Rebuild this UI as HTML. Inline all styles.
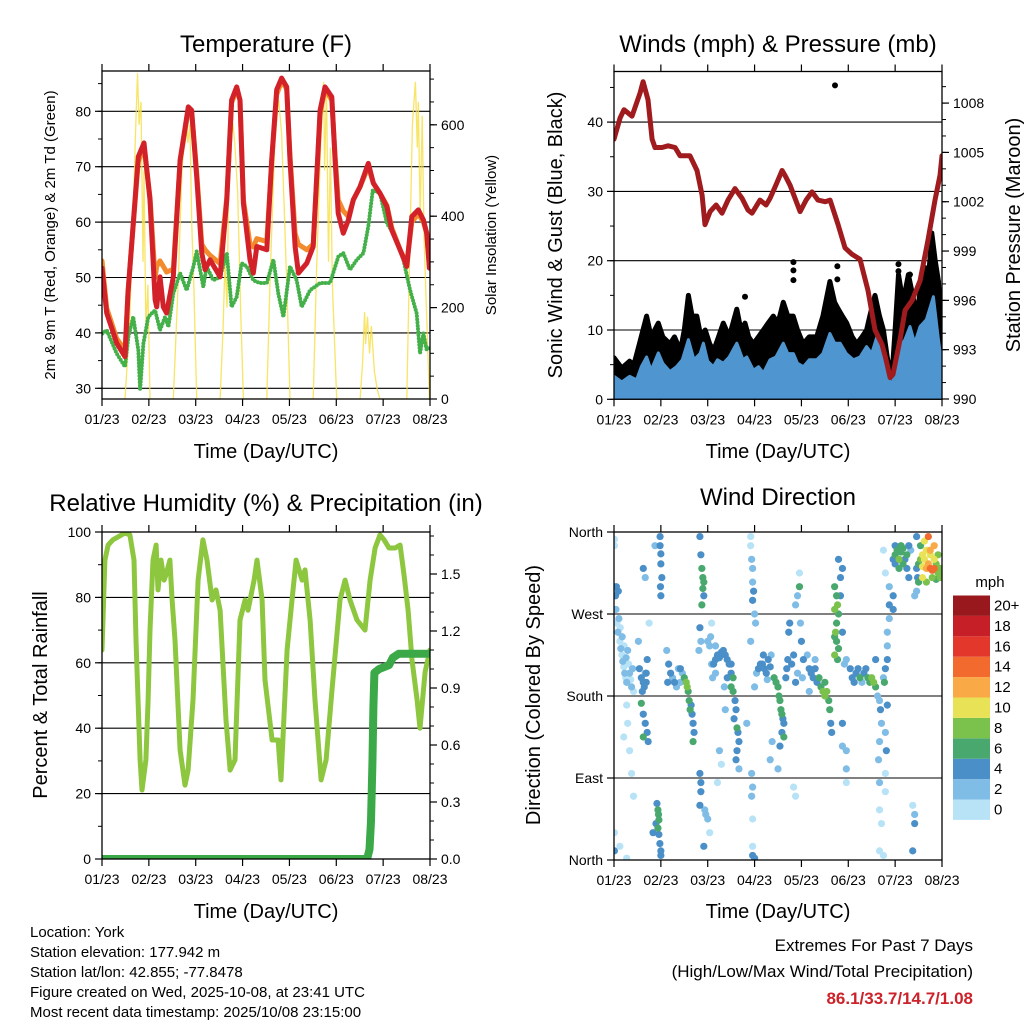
<!DOCTYPE html>
<html><head><meta charset="utf-8"><title>Station Meteogram</title>
<style>
html,body{margin:0;padding:0;background:#fff;}
svg{display:block;font-family:"Liberation Sans",Arial,sans-serif;}
</style></head>
<body>
<svg id="chart" width="1024" height="1024" viewBox="0 0 1024 1024" xmlns="http://www.w3.org/2000/svg">
<rect x="0" y="0" width="1024" height="1024" fill="#fff"/>
<text x="266" y="52" font-size="24" text-anchor="middle">Temperature (F)</text>
<text x="778" y="52" font-size="24" text-anchor="middle">Winds (mph) &amp; Pressure (mb)</text>
<text x="266" y="511" font-size="24" text-anchor="middle">Relative Humidity (%) &amp; Precipitation (in)</text>
<text x="778" y="505" font-size="24" text-anchor="middle">Wind Direction</text>
<text x="266" y="458" font-size="20" text-anchor="middle">Time (Day/UTC)</text>
<text x="778" y="458" font-size="20" text-anchor="middle">Time (Day/UTC)</text>
<text x="266" y="918" font-size="20" text-anchor="middle">Time (Day/UTC)</text>
<text x="778" y="918" font-size="20" text-anchor="middle">Time (Day/UTC)</text>
<text transform="translate(55,235) rotate(-90)" font-size="15" text-anchor="middle">2m &amp; 9m T (Red, Orange) &amp; 2m Td (Green)</text>
<text transform="translate(496,235) rotate(-90)" font-size="15" text-anchor="middle">Solar Insolation (Yellow)</text>
<text transform="translate(562,235) rotate(-90)" font-size="20" text-anchor="middle">Sonic Wind &amp; Gust (Blue, Black)</text>
<text transform="translate(1020,235) rotate(-90)" font-size="20" text-anchor="middle">Station Pressure (Maroon)</text>
<text transform="translate(47,695) rotate(-90)" font-size="20" text-anchor="middle">Percent &amp; Total Rainfall</text>
<text transform="translate(540,695) rotate(-90)" font-size="20" text-anchor="middle">Direction (Colored By Speed)</text>
<g font-size="15">
<text x="30" y="937">Location: York</text>
<text x="30" y="957">Station elevation: 177.942 m</text>
<text x="30" y="977">Station lat/lon: 42.855; -77.8478</text>
<text x="30" y="997">Figure created on Wed, 2025-10-08, at 23:41 UTC</text>
<text x="30" y="1017">Most recent data timestamp: 2025/10/08 23:15:00</text>
</g>
<g font-size="17" text-anchor="end">
<text x="973" y="951">Extremes For Past 7 Days</text>
<text x="973" y="977">(High/Low/Max Wind/Total Precipitation)</text>
<text x="973" y="1004" fill="#cc2229" font-weight="bold">86.1/33.7/14.7/1.08</text>
</g>
<text x="990" y="587" font-size="15" text-anchor="middle">mph</text>
</svg>
<script>
// ---------- data ----------
const timeTicks = ["01/23","02/23","03/23","04/23","05/23","06/23","07/23","08/23"];
const tempT = [0,2.4,7.5,11.8,13.3,18.6,21.5,24.6,27.2,28,29.7,31.4,33.1,36.5,40,44.2,45.9,48.5,51.1,52.8,55.3,60.5,63.9,66.4,69,70.7,72.4,75.8,77.5,79.3,84.4,86.9,89.5,92,94.6,96.3,98.9,100.6,104.9,108.2,111.7,114.2,117.7,119.4,121,123.6,126.2,128.7,132.2,136.4,139,142.4,145.9,148.4,152.7,156.1,158.7,162,164.6,166.3,167.7];
const tempRed = [51.7,43.6,38.2,35.7,47.2,71.8,74.3,64,46,44.7,50.1,44.7,43.6,50.1,71.2,80.8,80.2,68.2,54.4,51.4,53.2,50.1,64,82,84.4,82,63.4,53.2,50.8,55.6,55,71.2,83.9,86,84.4,71.2,55.6,50.8,52.6,55.6,80.2,84.4,82.6,71.2,61.6,58,60.4,64,66.4,70.6,67,65.2,62.8,58.6,55,52,61,62.2,60.4,58,51.7];
const tempOrange = [53,44.5,39,36.8,47.5,71,73.5,64.5,50,52,53,52,51,51.5,71,80.2,80,69,56,55,54,52.5,64.5,81.5,84,82,64,56,55.5,57,56.5,71,83,85.5,84,72,58,56,55,56,79.5,84,82,72,64,62,61,64,66.4,70,67,65.2,63,59,55,52.5,60,61.5,60,58,52];
const dewT = [0.2,2.4,7.5,11.8,13.5,16,18.6,19.5,21.2,23.7,27.2,29.7,32.3,34,36.5,40,43.4,46.8,48.5,51.9,53.6,57,60.5,63.9,66.4,69,71.5,74.1,77.5,80.9,84.4,87.8,90.3,92.9,96.3,99.7,102.3,106.6,111.7,116.8,121.1,123.6,127,130.5,133.9,136.4,138.7,142.4,145.9,150.1,154.4,157.8,161.2,162.9,164.6,166.3,167.7];
const dewVals = [39.9,40.5,36.3,33.9,39.3,42.9,36.9,29.7,38.1,42.9,44.1,40.5,42.9,41.1,47.1,50.8,47.7,52,54.7,48.3,52,49.5,50.1,54.4,44.7,46.5,52.6,52,49.5,49,49,53.2,47.1,42.9,52,49.5,44.7,47.7,49,49,53.8,54.4,51.4,53.2,54.4,59.2,65.8,65.2,59.8,57.4,53.2,47.7,43.5,36.3,39.9,36.9,37.5];
const solarT = [11.8,14,16,17,18.2,19,20,21,21.5,22.5,23.5,24.6,36.5,39,41,43,44,45,46,47,48.5,60.5,62,63,64,65,67,68,69.5,71,72.4,84.4,86,88,89,90.5,92,93.5,95,96.3,108.2,110,112,113.5,114,115,116,117,118,120.2,132.2,133.5,134.5,135,136,137,138,139.5,141,142.4,156.1,157.5,159,160.5,161.5,162,163,164,165,166.5,167.7];
const solarVals = [0,150,400,560,713,600,650,300,500,150,250,0,0,250,500,618,560,600,380,250,0,0,150,300,200,500,604,560,450,200,0,0,250,500,620,654,580,400,200,0,0,300,560,694,500,680,300,550,250,0,0,80,190,120,180,100,160,60,20,0,0,300,600,694,550,650,400,620,350,150,0];
const presT = [0,3.1,5.1,9.2,13.3,14.9,17.4,19.5,21,24.6,27.7,31.3,33.8,38.9,42.5,45.1,46.6,49.2,52.3,55.3,58.4,62,65.6,68.6,70.7,74.8,77.9,79.9,82.5,86.1,87.6,90.2,95.3,98.4,101.4,104.5,108.1,110.7,114.8,118.3,121.9,126,130.1,133.7,137.3,139.3,141.4,142.9,146.5,149.1,152.7,156.8,160.9,164.4,167,168];
const presVals = [1005.8,1007.1,1007.6,1007.2,1008.6,1009.3,1008.2,1005.8,1005.3,1005.3,1005.4,1005.3,1004.8,1004.8,1003.9,1002.4,1000.6,1001.4,1001.8,1001.3,1002.1,1002.8,1002.2,1001.5,1001.3,1002.1,1001.8,1002.2,1002.9,1003.9,1003.6,1003,1001.4,1002.1,1002.6,1002.1,1002,1002.1,1000.6,999.2,998.8,998.5,996.6,994.2,993.3,992.4,991.3,991.5,993.6,995.4,996,997.2,999.7,1002.1,1003.6,1004.8];
const windT = [0,4,8,11.6,14,16.7,19,22.7,25,28.7,32,35,38.1,41,44.1,45.8,48,50.9,53,56,59,62.9,66,68,71.4,74,76.5,79.9,83,86.7,89,91.9,94,97,100,103.8,107,110.6,113,115.8,119,122.6,126,129.4,132,134.6,138,140,142.3,144,146.5,149,151.6,154,156.8,160,163.6,166,168];
const windVals = [3.3,2.5,3.3,2.8,4.7,6.1,4.2,6.7,5.2,4,4.7,5.7,8.6,5.7,6.6,8.1,5.5,4.7,5.7,5.2,6.1,8.1,5.7,6.1,4.2,4.7,3.8,5.7,6.1,8.1,6.6,6.6,5.2,4.7,5.7,5.7,6.6,9.5,8.1,8.1,6.6,5.7,6.1,7.6,6.6,9,6.1,4.2,1.3,5.7,7.6,8.6,10.5,8.1,10.5,11.5,14.8,9,4.7];
const gustT = [0,4,8,10.2,13,16.7,19,22.7,25,28.7,31,34,36,38.1,40,42.4,44.5,46.7,49,51,53.5,56,59,62.9,65,67.1,69,71.4,74,76.5,79,81.6,84,86.7,89,91.8,94,96.9,100,103.8,107,110.6,113,114.9,117,119.2,122,124.3,127,129.4,131,133.7,136,138,140,142.3,144,145.7,148,150.8,153,155.1,157,159.4,161,162.8,164.5,166.2,168];
const gustVals = [6,4.5,5.5,5,8,12,9,11,9,8,9,7,10,15,12,12,9,10,8,7,9,11,9,13,10,11,9,8,9,10,11,12,11,14,12,12,10,8,9,9,12,17,14,13,12,11,9,8,9,10,12,15,12,10,6,3,10,18,14,18,15,12,16,19,17,24,20,17,9];
const gustOutT = [113.2,91.9,91.9,91.9,114.4,114.4,67.1,145.7,145.7,151.6];
const gustOutV = [45.3,19.8,18.6,17.2,19.2,17.3,14.8,19.5,18.5,18];
const rhT = [0,1.5,3.1,5.6,8.2,11.8,14.3,16.4,17.4,19.5,20.5,22.5,23.6,24.6,26.1,27.7,28.7,30.2,31.8,32.8,34.8,35.9,37.4,40,42.5,44.1,46.6,49.2,51.7,53.8,56.4,58.4,60.5,63.5,65.6,68.1,70.7,73.3,74.8,77.9,79.4,82,83.5,87.1,90.2,91.7,94.8,97.3,99.4,102.5,104,106.6,109.1,112.2,114.8,117.8,121.9,124.5,127,130.6,134.7,137.3,139.9,142.4,144.5,147,150.1,152.7,154.7,156.8,158.8,161.4,162.9,165.5,168];
const rhVals = [63.9,91.4,96,97.6,98.5,99.7,99.1,91.4,67,30.3,21.1,30.3,48.6,70,91.4,96,82.3,91.4,85.3,86.9,91.4,79.2,67,33.3,22.6,27.2,48.6,85.3,97.6,91.4,79.2,82.3,76.1,42.5,27.2,30.3,73.1,79.2,76.1,85.3,91.4,79.2,54.7,36.4,36.4,24.2,63.9,79.2,91.4,85.3,88.4,73.1,48.6,24.2,30.3,51.7,79.2,85.3,79.2,73.1,70,85.3,95.1,99.1,97.6,95.1,95.1,96,86.9,76.1,60.9,48.6,40,57.2,63.9];
const precipT = [0,135.8,137,137.8,138.5,139,139.5,142,147,149,152,168];
const precipVals = [0,0,0.05,0.2,0.5,0.8,0.98,1.0,1.02,1.06,1.08,1.08];
const dirT = [0.2,0.2,0.5,0.8,1,1.5,2,3,3.5,4,4.5,5,5.5,6,6.5,7,7.5,8,8.5,9,9.5,10,2.5,3.2,4.2,5.2,6.2,1.2,2.2,6.5,7,8,9,10,5,3,0.2,0.2,6.5,
13,14,15,15.5,14.5,16,16.5,14,15,16,17,17.5,15,16.5,17,15,16,18,12.5,
23.6,23.6,24,24,23.8,24,21,24.5,22,22.5,22.8,23,22.5,23,23.5,24,24,21.5,20,27,28,29,30,31,32,33,34,27.5,
36,37,37.5,38,38.5,39,40,40.5,41,40.5,39.5,35,34,
44,44.5,45,45.5,46,45.5,46,45,44,44.5,43.5,44,44.5,44.5,44,46.5,47,48,46,49,48,49,
50,51,52,53,54,55,56,57,52,50.5,49.5,50,52,58,59,60,61,60,61,62,62.5,61.5,63,63.5,64,63,62.5,64,60,58,56.5,57,54,55,53,
70,70,70.5,71,71,71.5,71,72,72.5,70,70.5,71,70.5,71,71,71,72,74,75,73,72,68,
76,77,78,79,80,76.5,78.5,80.5,82,83,84,84.5,85,85.5,86,86.5,87,86,87,85,88,88.5,89,89.5,90,81,84,80,
91,92,93,94,93,94,95,95.5,96,97,96.5,95,92,93,
100,101,102,103,104,105,106,107,108,109,108,110,110.5,111,111.5,103,100,99,
113,114,114.5,113,115,114,113.5,114,115,113,114.5,116,117,115,116,117,113,119,118,119,119,119,117,117,
121,122,123,124,125,126,127,128,129,130,131,132,133,134,134,135,136,136.5,137,136,135.5,136,136,137,136,138,138,139,140,140,140,141,141,141,138,139,138.5,140,139,139.5,139,139,
143,144,145,146,147,148,149,150,151,146,148,144,147,150,152,143,143,144,151,154,154,154,153,153,155,155.5,
155,156,157,158,159,160,161,162,163,164,165,166,167,158,160,162,164,166,157,159,163,165,161,155,167,162,158,160,156,164];
const dirDeg = [352,345,300,290,275,260,250,240,232,225,218,212,205,200,195,230,215,205,198,190,210,185,265,255,245,235,222,300,295,170,150,120,95,70,135,15,30,10,2,
210,200,195,190,185,205,195,172,160,150,140,130,135,205,220,320,310,260,240,
355,345,336,325,300,290,345,310,62,55,50,44,35,28,18,10,5,40,30,230,215,205,200,195,190,210,195,195,
200,195,190,185,175,165,160,150,140,130,170,205,210,
355,335,320,310,305,298,290,280,255,240,230,95,85,75,60,55,50,45,15,235,240,30,
215,215,220,225,222,228,230,225,205,200,245,260,235,220,215,205,200,190,185,175,165,155,145,140,130,120,110,100,215,200,190,165,120,105,85,
355,345,330,320,305,295,285,270,260,240,95,80,70,45,15,5,2,210,215,205,190,150,
215,210,205,220,212,225,198,225,200,195,190,180,175,165,160,155,150,140,135,125,200,210,220,250,260,130,100,110,
215,225,195,205,280,290,300,260,240,220,200,315,80,70,
210,205,200,210,195,200,190,185,180,185,195,175,165,150,140,220,185,225,
300,290,280,275,270,260,250,240,232,225,220,310,320,330,290,250,245,220,215,120,100,85,150,125,
210,200,195,205,210,200,195,205,210,200,195,200,195,190,220,180,175,165,150,130,110,85,55,40,10,5,200,210,220,235,250,265,280,300,340,315,195,170,140,120,95,75,
330,335,340,330,338,342,330,335,345,320,325,325,345,320,340,290,275,345,310,290,50,40,10,60,295,310,
320,325,330,335,330,340,325,320,318,330,325,315,320,310,320,335,345,335,345,350,310,308,355,355,310,340,322,305,305,320];
const dirSpd = [1,1,3,5,3,1,3,1,3,1,3,1,3,1,3,3,1,3,1,3,3,1,3,1,3,1,3,5,5,1,1,1,1,1,1,1,1,5,1,
5,5,5,5,5,3,5,7,5,5,5,5,7,5,5,5,3,1,3,
5,5,5,5,5,5,3,5,5,7,7,7,7,5,5,5,5,5,5,3,5,5,3,5,3,3,3,5,
7,9,9,7,7,7,5,5,5,7,5,3,5,
5,5,7,7,7,7,5,7,5,3,3,5,5,5,5,3,3,3,5,3,3,1,
3,5,5,5,5,5,5,5,3,3,3,1,3,5,5,5,7,7,7,5,5,5,7,5,5,5,5,3,5,5,3,3,3,1,1,
1,1,3,3,3,5,5,3,3,3,3,3,3,1,1,5,5,5,5,3,3,3,
5,5,5,5,5,5,3,3,7,7,7,7,7,7,7,5,5,5,7,5,5,5,5,5,5,3,3,3,
5,5,5,3,3,3,7,3,5,5,3,1,1,1,
5,5,5,5,5,7,7,9,9,9,7,7,7,5,5,3,3,3,
7,7,9,9,7,7,9,7,7,9,7,5,5,5,5,5,7,3,3,3,3,1,5,3,
5,5,5,5,5,7,3,5,5,7,7,9,9,7,5,3,3,5,3,3,3,3,1,1,1,1,3,5,5,3,3,3,5,3,1,1,7,5,3,5,1,1,
5,7,7,9,7,7,5,7,5,7,7,5,7,5,3,5,5,5,5,3,3,5,5,1,3,5,
5,7,9,11,11,11,13,15,15,11,9,9,9,11,13,11,13,9,7,11,9,7,15,5,9,13,11,9,7,15];
const colorbarLabels = ["0","2","4","6","8","10","12","14","16","18","20+"];
const colorbarColors = ["#b8e3f7","#80bde6","#4a8fc7","#49a86d","#7bc24c","#e8e257","#f9aa46","#f26a2d","#e2372a","#c71f27","#99181d"];

// ---------- helpers ----------
const NS = "http://www.w3.org/2000/svg";
const svg = document.getElementById("chart");
function mk(tag, attrs, parent){
  const e = document.createElementNS(NS, tag);
  for (const k in attrs) e.setAttribute(k, attrs[k]);
  (parent || svg).appendChild(e);
  return e;
}
const P1 = {x0:102,x1:430,y0:71,y1:399};
const P2 = {x0:614,x1:942,y0:71.5,y1:399.3};
const P3 = {x0:102,x1:430,y0:532,y1:859};
const P4 = {x0:614,x1:942,y0:532,y1:860};
function xT(p,t){ return p.x0 + t/168*(p.x1-p.x0); }
const yTemp = v => 388.3 - (v-30)*5.54;
const ySolar = v => 399 - v*0.457;
const yWind = v => 399.3 - v*6.93;
const yPres = v => 399 - (v-990)*16.44;
const yRH = v => 859 - v*3.27;
const yPrecip = v => 859 - v*190;
const yDir = v => 860 - v/1.0976;

function pathD(p, ts, vs, yf){
  let d = "";
  for (let i=0;i<ts.length;i++){ d += (i?"L":"M") + xT(p,ts[i]).toFixed(1) + "," + yf(vs[i]).toFixed(1); }
  return d;
}
function clip(id,p){
  const c = mk("clipPath",{id:id});
  mk("rect",{x:p.x0,y:p.y0,width:p.x1-p.x0,height:p.y1-p.y0},c);
}
clip("c1",P1); clip("c2",P2); clip("c3",P3); clip("c4",P4);

function frame(p, name){
  const r = mk("rect",{x:p.x0,y:p.y0,width:p.x1-p.x0,height:p.y1-p.y0,fill:"none",stroke:"#000","stroke-width":1.3});
  
  
}
function timeAxis(p, name){
  const g = mk("g",{});
  
  
  timeTicks.forEach((lab,i)=>{
    const x = xT(p, i*24);
    mk("line",{x1:x,x2:x,y1:p.y1,y2:p.y1+7,stroke:"#000","stroke-width":1.2},g);
    mk("line",{x1:x,x2:x,y1:p.y0,y2:p.y0-7,stroke:"#000","stroke-width":1.2},g);
    const t = mk("text",{x:x,y:p.y1+25,"font-size":14,"text-anchor":"middle"},g);
    t.textContent = lab;
    
    
  });
}
function yAxis(p, side, vals, yf, labels, minor, grid, name){
  const g = mk("g",{});
  
  
  const xe = side==="left"? p.x0 : p.x1, dir = side==="left"? -1 : 1;
  minor.forEach(v=>{
    const y = yf(v);
    if (y < p.y0-0.5 || y > p.y1+0.5) return;
    mk("line",{x1:xe,x2:xe+dir*4,y1:y,y2:y,stroke:"#000","stroke-width":1},g);
  });
  vals.forEach((v,i)=>{
    const y = yf(v);
    mk("line",{x1:xe,x2:xe+dir*7,y1:y,y2:y,stroke:"#000","stroke-width":1.2},g);
    if (grid && y > p.y0+2 && y < p.y1-2) mk("line",{x1:p.x0,x2:p.x1,y1:y,y2:y,stroke:"#000","stroke-width":1.1},g);
    const t = mk("text",{x:xe+dir*11,y:y+5,"font-size":14,"text-anchor":side==="left"?"end":"start"},g);
    t.textContent = labels[i];
    
    
  });
}
function range(a,b,s){ const r=[]; for(let v=a; v<=b+1e-9; v+=s) r.push(+v.toFixed(3)); return r; }

// ---------- Panel 1: temperature ----------
yAxis(P1,"left",[30,40,50,60,70,80],yTemp,["30","40","50","60","70","80"],range(30,85,5),true,"temperature-y-axis");
yAxis(P1,"right",[0,200,400,600],ySolar,["0","200","400","600"],range(0,700,50),false,"solar-y-axis");
const g1 = mk("g",{"clip-path":"url(#c1)"});


const solar = mk("path",{d:pathD(P1,solarT,solarVals,ySolar),fill:"none",stroke:"#f7df4a","stroke-width":1.3,opacity:0.85},g1);


const dew = mk("path",{d:pathD(P1,dewT,dewVals,yTemp),fill:"none",stroke:"#44b049","stroke-width":4,"stroke-dasharray":"0 3.2","stroke-linecap":"round","stroke-linejoin":"round"},g1);


const tOr = mk("path",{d:pathD(P1,tempT,tempOrange,yTemp),fill:"none",stroke:"#f28a2e","stroke-width":5,"stroke-linejoin":"round","stroke-linecap":"round"},g1);


const tRed = mk("path",{d:pathD(P1,tempT,tempRed,yTemp),fill:"none",stroke:"#d22128","stroke-width":5,"stroke-linejoin":"round","stroke-linecap":"round"},g1);


frame(P1,"temperature-frame");
timeAxis(P1,"temperature-x-axis");

// ---------- Panel 2: winds & pressure ----------
yAxis(P2,"left",[0,10,20,30,40],yWind,["0","10","20","30","40"],range(0,45,5),true,"wind-y-axis");
yAxis(P2,"right",[990,993,996,999,1002,1005,1008],yPres,["990","993","996","999","1002","1005","1008"],range(990,1009,1),false,"pressure-y-axis");
const g2 = mk("g",{"clip-path":"url(#c2)"});


const gustArea = mk("path",{d:pathD(P2,gustT,gustVals,yWind)+"L"+xT(P2,168)+","+yWind(0)+"L"+xT(P2,0)+","+yWind(0)+"Z",fill:"#000",stroke:"#000","stroke-width":5,"stroke-linejoin":"round"},g2);


gustOutT.forEach((t,i)=>{
  const c = mk("circle",{cx:xT(P2,t),cy:yWind(gustOutV[i]),r:3,fill:"#000"},g2);
  
  
});
const windArea = mk("path",{d:pathD(P2,windT,windVals,yWind)+"L"+xT(P2,168)+","+yWind(0.3)+"L"+xT(P2,0)+","+yWind(0.3)+"Z",fill:"#4f95d0",stroke:"#4f95d0","stroke-width":3,"stroke-linejoin":"round"},g2);


const pres = mk("path",{d:pathD(P2,presT,presVals,yPres),fill:"none",stroke:"#a01b1d","stroke-width":5,"stroke-linejoin":"round","stroke-linecap":"round"},g2);


frame(P2,"winds-frame");
timeAxis(P2,"winds-x-axis");

// ---------- Panel 3: RH & precip ----------
yAxis(P3,"left",[0,20,40,60,80,100],yRH,["0","20","40","60","80","100"],range(0,100,10),true,"humidity-y-axis");
yAxis(P3,"right",[0,0.3,0.6,0.9,1.2,1.5],yPrecip,["0.0","0.3","0.6","0.9","1.2","1.5"],range(0,1.7,0.1),false,"precip-y-axis");
const g3 = mk("g",{"clip-path":"url(#c3)"});


const rh = mk("path",{d:pathD(P3,rhT,rhVals,yRH),fill:"none",stroke:"#8dc63f","stroke-width":5,"stroke-linejoin":"round","stroke-linecap":"round"},g3);


const pr = mk("path",{d:pathD(P3,precipT,precipVals,yPrecip),fill:"none",stroke:"#3ba947","stroke-width":8,"stroke-linejoin":"round","stroke-linecap":"round"},g3);


frame(P3,"humidity-frame");
timeAxis(P3,"humidity-x-axis");

// ---------- Panel 4: wind direction ----------
yAxis(P4,"left",[0,90,180,270,360],yDir,["North","East","South","West","North"],[],true,"direction-y-axis");
const g4 = mk("g",{"clip-path":"url(#c4)"});


const order = dirT.map((t,i)=>i).sort((a,b)=>dirSpd[a]-dirSpd[b]);
order.forEach(i=>{
  const ci = Math.min(10, Math.floor(dirSpd[i]/2));
  const c = mk("circle",{cx:xT(P4,dirT[i]),cy:yDir(dirDeg[i]),r:3.6,fill:colorbarColors[ci]},g4);
  
  
});
frame(P4,"direction-frame");
timeAxis(P4,"direction-x-axis");

// colorbar
const cb = mk("g",{});


colorbarLabels.forEach((lab,i)=>{
  const y = 799.5 - i*20.4;
  const r = mk("rect",{x:953,y:y,width:37,height:20.4,fill:colorbarColors[i]},cb);
  
  
  const t = mk("text",{x:994,y:y+15,"font-size":15},cb);
  t.textContent = lab;
  
  
});
</script>
</body></html>
